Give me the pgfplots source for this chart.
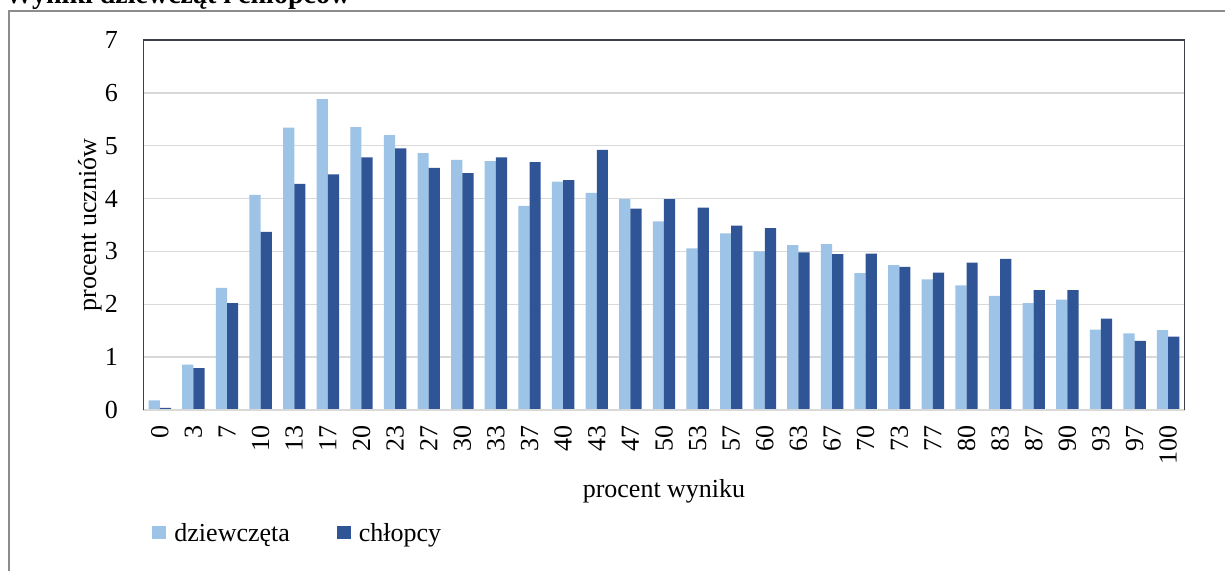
\documentclass[border=0pt]{standalone}
\usepackage{pgfplots}
\pgfplotsset{compat=1.18}
\usepackage{pgfplotstable}
\usepackage{fontspec}
\setmainfont{Liberation Serif}
\definecolor{girls}{HTML}{9DC3E6}
\definecolor{boys}{HTML}{2F5597}
\definecolor{gridc}{HTML}{D9D9D9}
\definecolor{boxc}{HTML}{3B3F48}
\definecolor{framec}{HTML}{8C8C8C}

\pgfplotstableread{
x g b
0 0.18 0.04
1 0.86 0.79
2 2.31 2.02
3 4.07 3.37
4 5.34 4.28
5 5.88 4.46
6 5.35 4.78
7 5.20 4.95
8 4.86 4.58
9 4.73 4.48
10 4.71 4.78
11 3.86 4.69
12 4.32 4.35
13 4.11 4.92
14 3.99 3.81
15 3.57 3.99
16 3.06 3.83
17 3.34 3.49
18 3.00 3.44
19 3.12 2.98
20 3.14 2.95
21 2.59 2.96
22 2.74 2.71
23 2.47 2.60
24 2.36 2.79
25 2.16 2.86
26 2.02 2.27
27 2.09 2.27
28 1.52 1.73
29 1.45 1.31
30 1.51 1.39
}\data

\begin{document}
\begin{tikzpicture}[x=1pt,y=1pt]
\useasboundingbox (0,0) rectangle (1225,570);
\draw[framec, line width=1.5pt] (9,-10) -- (9,559) -- (1240,559);
\node[anchor=base west, inner sep=0pt, font=\fontsize{28}{32}\selectfont\bfseries] at (5,566) {Wyniki dziewcząt i chłopców};
\begin{axis}[
  at={(143pt,160pt)}, anchor=south west,
  scale only axis, width=1042pt, height=370pt,
  xmin=-0.5, xmax=30.5, ymin=0, ymax=7,
  ytick={0,1,2,3,4,5,6,7},
  xtick={0,...,30},
  xticklabels={0,3,7,10,13,17,20,23,27,30,33,37,40,43,47,50,53,57,60,63,67,70,73,77,80,83,87,90,93,97,100},
  ybar=0pt, bar width=11.2pt,
  ymajorgrids, grid style={gridc, line width=1.3pt},
  major tick length=0pt,
  axis line style={draw=none},
  tick label style={font=\fontsize{26}{30}\selectfont, inner sep=0pt},
  /pgf/number format/assume math mode=true,
  yticklabel style={anchor=east},
  yticklabel shift=25pt,
  xticklabel style={rotate=90, anchor=east},
  xticklabel shift=15pt,
  label style={font=\fontsize{26}{30}\selectfont},
  xlabel={procent wyniku},
  xlabel style={at={(rel axis cs:0.5,-0.2378)}, anchor=base},
  ylabel={procent uczniów},
  ylabel style={at={(rel axis cs:-0.0509,0.5)}, anchor=center},
  legend columns=2,
  legend style={at={(rel axis cs:0.006,-0.332)}, anchor=west, draw=none, fill=none,
    font=\fontsize{26}{30}\selectfont,
    /tikz/every even column/.append style={column sep=45pt}},
  legend image code/.code={\fill[#1] (0pt,-6pt) rectangle (14pt,7pt); \path (20pt,0pt);},
]
\addplot[fill=girls, draw=none] table[x=x, y=g] {\data};
\addlegendentry{dziewczęta}
\addplot[fill=boys, draw=none] table[x=x, y=b] {\data};
\addlegendentry{chłopcy}
\draw[gridc, line width=1.5pt] (rel axis cs:0,0) -- (rel axis cs:1,0);
\draw[boxc, line width=1.5pt] (rel axis cs:0,0) -- (rel axis cs:0,1) -- (rel axis cs:1,1) -- (rel axis cs:1,0);
\end{axis}
\end{tikzpicture}
\end{document}
